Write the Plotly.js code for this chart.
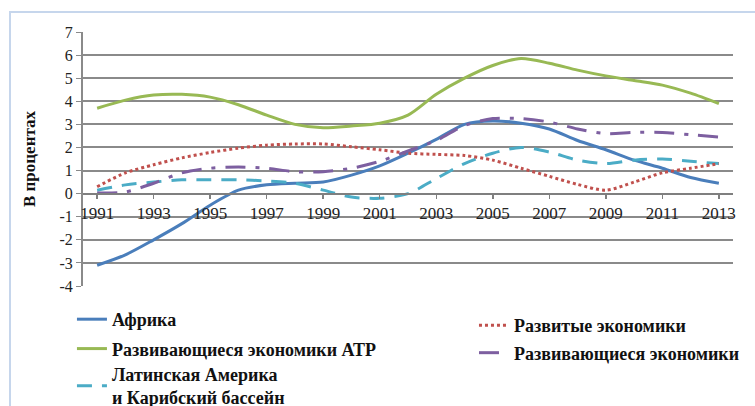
<!DOCTYPE html>
<html><head><meta charset="utf-8">
<script src="https://cdn.plot.ly/plotly-3.0.1.min.js"></script>
<style>body{margin:0;background:#fff;}#wrap{position:relative;width:755px;height:406px;overflow:hidden;}
#frame{position:absolute;left:9px;top:11px;width:900px;height:600px;border-top:2px solid #c6d6ec;border-left:2px solid #c6d6ec;pointer-events:none;}</style>
</head><body><div id="wrap"><div id="chart" style="width:755px;height:406px;"></div><div id="frame"></div></div>
<script>
const years = [1991,1992,1993,1994,1995,1996,1997,1998,1999,2000,2001,2002,2003,2004,2005,2006,2007,2008,2009,2010,2011,2012,2013];
const tickYears = [1991,1993,1995,1997,1999,2001,2003,2005,2007,2009,2011,2013];
const yTicks = [-4,-3,-2,-1,0,1,2,3,4,5,6,7];
const africa = [-3.1,-2.65,-2.0,-1.3,-0.5,0.15,0.38,0.45,0.5,0.8,1.2,1.75,2.35,3.0,3.15,3.05,2.8,2.3,1.9,1.45,1.1,0.7,0.45];
const asiaPacific = [3.7,4.05,4.27,4.3,4.18,3.85,3.4,3.0,2.85,2.93,3.05,3.4,4.3,5.0,5.55,5.85,5.65,5.35,5.1,4.9,4.7,4.35,3.9];
const latinAmerica = [0.15,0.38,0.5,0.6,0.6,0.6,0.55,0.45,0.15,-0.15,-0.2,0.0,0.65,1.3,1.75,2.0,1.8,1.45,1.3,1.45,1.5,1.4,1.3];
const developed = [0.3,0.9,1.25,1.55,1.78,1.97,2.1,2.15,2.15,2.03,1.9,1.75,1.7,1.65,1.45,1.1,0.75,0.4,0.15,0.5,0.9,1.1,1.3];
const developing = [0.03,0.07,0.45,0.9,1.1,1.15,1.1,0.95,0.95,1.1,1.4,1.85,2.3,2.95,3.25,3.25,3.1,2.8,2.6,2.65,2.65,2.55,2.45];
const names = ['Африка','Развивающиеся экономики АТР','Латинская Америка<br>и Карибский бассейн','Развитые экономики','Развивающиеся экономики'];

const serif = 'Liberation Serif';
function tr(y, name, color, dash, legend, group){
  return {x: years, y: y, name: name, type:'scatter', mode:'lines',
    line:{color:color, width:3, dash:dash, shape:'spline', smoothing:0.8},
    legend: legend, legendgroup: group, hoverinfo:'skip'};
}
const data = [
  tr(africa, names[0], '#4a7ebb', 'solid', 'legend', 'a'),
  tr(asiaPacific, names[1], '#98b954', 'solid', 'legend', 'b'),
  tr(latinAmerica, names[2], '#4bacc6', '15px,10px', 'legend3', 'c'),
  tr(developed, names[3], '#c0504d', 'dot', 'legend2', 'd'),
  tr(developing, names[4], '#7d5fa0', '20px,10px,4px,10px', 'legend2', 'e')
];
const legFont = {family:serif, size:18, color:'#111', weight:'bold'};
const layout = {
  width:755, height:406,
  font:{family:serif, color:'#222'},
  margin:{l:83, r:22, t:32, b:120, autoexpand:false},
  paper_bgcolor:'#fff', plot_bgcolor:'#fff',
  showlegend:true,
  xaxis:{range:[1990.5,2013.5], tickvals:tickYears, ticktext:tickYears.map(String),
    showgrid:false, zeroline:false, showline:true, linecolor:'#7f7f7f', linewidth:2,
    ticks:'outside', ticklen:4, tickcolor:'#7f7f7f', tickwidth:1.5,
    anchor:'free', position:4/11,
    tickfont:{family:serif, size:17, color:'#222'}},
  yaxis:{range:[-4,7], tickvals:yTicks, ticktext:yTicks.map(String),
    showgrid:true, gridcolor:'#8a8a8a', gridwidth:2,
    zeroline:false, showline:true, linecolor:'#8a8a8a', linewidth:2,
    ticks:'outside', ticklen:5, tickcolor:'#8a8a8a',
    tickfont:{family:serif, size:16, color:'#222'},
    title:{text:'В процентах', font:{family:serif, size:17, color:'#111', weight:'bold'}, standoff:20}},
  legend:{x:-0.017, y:-0.059, xanchor:'left', yanchor:'top', traceorder:'grouped', tracegroupgap:3,
    font:legFont, bgcolor:'rgba(0,0,0,0)'},
  legend2:{x:0.6015, y:-0.083, xanchor:'left', yanchor:'top', traceorder:'grouped', tracegroupgap:1,
    font:legFont, bgcolor:'rgba(0,0,0,0)'},
  legend3:{x:-0.017, y:-0.275, xanchor:'left', yanchor:'top',
    font:legFont, bgcolor:'rgba(0,0,0,0)'}
};
Plotly.newPlot('chart', data, layout, {displayModeBar:false, staticPlot:true});
</script></body></html>
